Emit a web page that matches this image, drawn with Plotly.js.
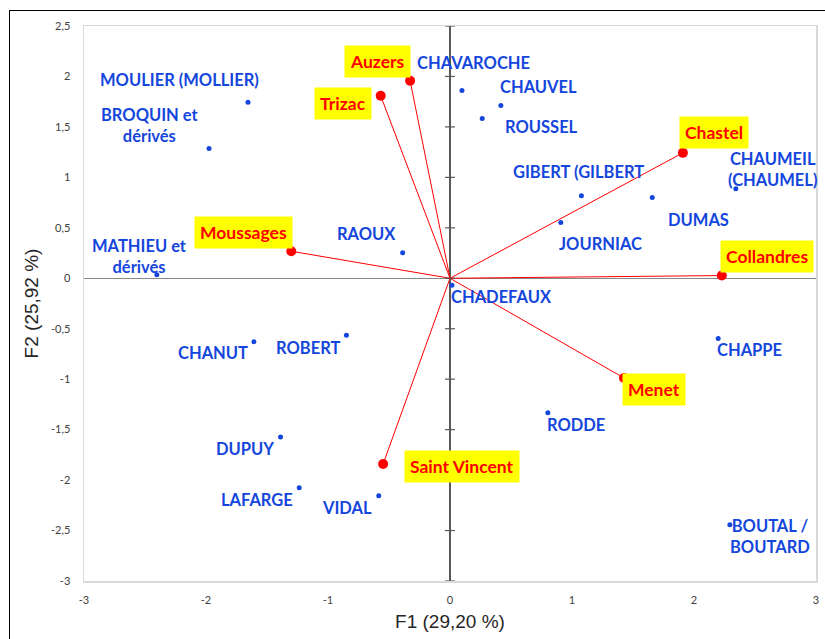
<!DOCTYPE html>
<html>
<head>
<meta charset="utf-8">
<script src="https://cdn.plot.ly/plotly-3.0.1.min.js"></script>
<style>
  html, body { margin: 0; padding: 0; background: #fff; overflow: hidden; }
  #chart { width: 825px; height: 639px; position: absolute; left: 0; top: 0; }
  #frame { position: absolute; left: 9px; top: 10px; width: 900px; height: 700px;
           border-left: 1.5px solid #000; border-top: 1.5px solid #000; pointer-events: none; }
</style>
</head>
<body>
<div id="chart"></div>
<div id="frame"></div>
<script>
// ---- Data: observations (family names) ----
const obsNames = ['MOULIER (MOLLIER)', 'BROQUIN et<br>dérivés', 'MATHIEU et<br>dérivés', 'RAOUX',
  'CHAVAROCHE', 'CHAUVEL', 'ROUSSEL', 'GIBERT (GILBERT', 'JOURNIAC', 'DUMAS',
  'CHAUMEIL<br>(CHAUMEL)', 'CHADEFAUX', 'CHAPPE', 'RODDE', 'BOUTAL /<br>BOUTARD',
  'CHANUT', 'ROBERT', 'DUPUY', 'LAFARGE', 'VIDAL'];
const obsF1 = [-1.656, -1.975, -2.403, -0.388, 0.098, 0.417, 0.264, 1.077, 0.908, 1.658,
  2.343, 0.016, 2.198, 0.802, 2.294, -1.607, -0.849, -1.389, -1.236, -0.584];
const obsF2 = [1.745, 1.286, 0.034, 0.252, 1.861, 1.712, 1.584, 0.817, 0.552, 0.800,
  0.886, -0.069, -0.598, -1.332, -2.442, -0.628, -0.565, -1.573, -2.075, -2.155];

// ---- Data: variables (communes) ----
const varNames = ['Auzers', 'Trizac', 'Moussages', 'Chastel', 'Collandres', 'Menet', 'Saint Vincent'];
const varF1 = [-0.327, -0.568, -1.301, 1.909, 2.228, 1.426, -0.548];
const varF2 = [1.957, 1.808, 0.268, 1.243, 0.027, -0.988, -1.840];

// ---- Tick labels ----
const xTickVals = [-3, -2, -1, 0, 1, 2, 3];
const xTickText = ['-3', '-2', '-1', '0', '1', '2', '3'];
const yTickVals = [-3, -2.5, -2, -1.5, -1, -0.5, 0, 0.5, 1, 1.5, 2, 2.5];
const yTickText = ['-3', '-2,5', '-2', '-1,5', '-1', '-0,5', '0', '0,5', '1', '1,5', '2', '2,5'];

const xTitle = 'F1 (29,20 %)';
const yTitle = 'F2 (25,92 %)';

// ---- Label placement (pixel offsets from each point: right, up) ----
const obsLabelOffsets = [[-68, 22], [-58.6, 23.5], [-17, 18], [-36.6, 19], [11.3, 27], [38, 18.7],
  [59, -8.3], [-2.6, 24], [40, -21], [46.4, -22.7], [37, 19.3], [49.5, -12], [31.4, -11],
  [28.6, -12], [40, -11.7], [-41, -11.3], [-38.7, -12.6], [-36, -11.7], [-42.5, -12], [-31.6, -12]];
const varLabelOffsets = [[-32.4, 19.6], [-37.8, -7.2], [-47.4, 19], [31, 20], [45, 19], [29.8, -12], [79.3, -2.2]];

const BLUE = '#1446dc';
const RED = '#ff0000';
const labelFont = 'Lato, "Open Sans", sans-serif';

// vector lines from origin
const lx = [], ly = [];
varF1.forEach((v, i) => { lx.push(0, v, null); ly.push(0, varF2[i], null); });

const traces = [
  { x: lx, y: ly, mode: 'lines', line: { color: RED, width: 1 }, hoverinfo: 'skip', showlegend: false },
  { x: obsF1, y: obsF2, mode: 'markers', marker: { color: BLUE, size: 5 }, showlegend: false },
  { x: varF1, y: varF2, mode: 'markers', marker: { color: RED, size: 10 }, showlegend: false }
];

const annotations = [];
obsNames.forEach((n, i) => {
  annotations.push({ x: obsF1[i], y: obsF2[i], text: n, showarrow: false,
    xanchor: 'center', yanchor: 'middle', xshift: obsLabelOffsets[i][0], yshift: obsLabelOffsets[i][1],
    font: { family: labelFont, size: 16.5, color: BLUE, weight: 'bold' } });
});
varNames.forEach((n, i) => {
  annotations.push({ x: varF1[i], y: varF2[i], text: n, showarrow: false,
    xanchor: 'center', yanchor: 'middle', xshift: varLabelOffsets[i][0], yshift: varLabelOffsets[i][1],
    bgcolor: '#ffff00', borderpad: 5,
    font: { family: labelFont, size: 17.5, color: RED, weight: 'bold' } });
});

// cross tick marks on the vertical axis line at x = 0
const shapes = yTickVals.map(v => ({ type: 'line', xref: 'x', yref: 'y', xsizemode: 'pixel', xanchor: 0,
  x0: -5, x1: 5, y0: v, y1: v, line: { color: '#595959', width: 1.2 } }));

const layout = {
  width: 825, height: 639,
  margin: { l: 84, r: 9, t: 26, b: 58 },
  paper_bgcolor: '#ffffff', plot_bgcolor: '#ffffff',
  showlegend: false,
  xaxis: {
    range: [-3, 3], tickvals: xTickVals, ticktext: xTickText, showgrid: false,
    zeroline: true, zerolinecolor: '#595959', zerolinewidth: 1.5,
    showline: true, mirror: true, linecolor: '#d9d9d9', linewidth: 1.5,
    ticks: '', ticklabelstandoff: 8,
    tickfont: { family: labelFont, size: 11, color: '#404040' },
    title: { text: xTitle, font: { family: '"Liberation Sans", Arial, sans-serif', size: 19, color: '#262626' }, standoff: 10 }
  },
  yaxis: {
    range: [-3, 2.5], tickvals: yTickVals, ticktext: yTickText, showgrid: false,
    zeroline: true, zerolinecolor: '#888888', zerolinewidth: 1.5,
    showline: true, mirror: true, linecolor: '#d9d9d9', linewidth: 1.5,
    ticks: '', ticklabelstandoff: 10,
    tickfont: { family: labelFont, size: 11, color: '#404040' },
    title: { text: yTitle, font: { family: '"Liberation Sans", Arial, sans-serif', size: 19, color: '#262626' }, standoff: 7 }
  },
  annotations: annotations,
  shapes: shapes
};

Plotly.newPlot('chart', traces, layout, { displayModeBar: false, staticPlot: true });
</script>
</body>
</html>
